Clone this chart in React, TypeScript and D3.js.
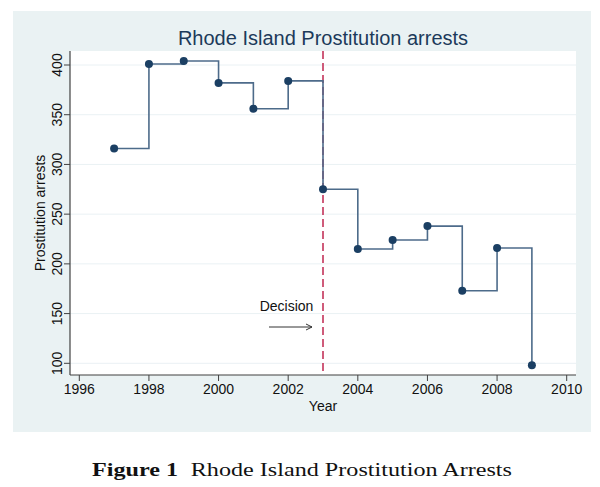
import React, { useRef, useEffect } from 'react'
import * as d3 from 'd3'

const years = [1997, 1998, 1999, 2000, 2001, 2002, 2003, 2004, 2005, 2006, 2007, 2008, 2009]
const arrests = [316, 401, 404, 382, 356, 384, 275, 215, 224, 238, 173, 216, 98]
const xTicks = [1996, 1998, 2000, 2002, 2004, 2006, 2008, 2010]
const yTicks = [100, 150, 200, 250, 300, 350, 400]
const decisionYear = 2003

const W = 600
const H = 487

export default function App() {
  const svgRef = useRef<SVGSVGElement>(null)

  useEffect(() => {
    if (!svgRef.current) return
    document.body.style.margin = '0'
    const svg = d3.select(svgRef.current)
    svg.selectAll('*').remove()

    const plot = { left: 70, right: 576, top: 51, bottom: 375 }
    const font = "'Liberation Sans', Arial, sans-serif"

    const x = d3.scaleLinear().domain([1996, 2010]).range([79.3, 566.7])
    const y = d3.scaleLinear().domain([100, 400]).range([363.3, 65])

    // outer panel
    svg.append('rect')
      .attr('x', 13).attr('y', 11).attr('width', 578).attr('height', 421)
      .attr('fill', '#eaf2f3')

    svg.append('rect')
      .attr('x', plot.left).attr('y', plot.top)
      .attr('width', plot.right - plot.left).attr('height', plot.bottom - plot.top)
      .attr('fill', '#ffffff')

    // grid
    svg.append('g')
      .selectAll('line')
      .data(yTicks)
      .join('line')
      .attr('x1', plot.left).attr('x2', plot.right)
      .attr('y1', d => y(d)).attr('y2', d => y(d))
      .attr('stroke', '#eaf1f4').attr('stroke-width', 1)

    // title
    svg.append('text')
      .attr('x', 323).attr('y', 44.5)
      .attr('text-anchor', 'middle')
      .attr('font-family', font).attr('font-size', 20)
      .attr('fill', '#1c3a5a')
      .text('Rhode Island Prostitution arrests')

    // axes
    const axisColor = '#404040'
    svg.append('line')
      .attr('x1', plot.left).attr('x2', plot.left)
      .attr('y1', plot.top).attr('y2', plot.bottom)
      .attr('stroke', axisColor).attr('stroke-width', 1.2)
    svg.append('line')
      .attr('x1', plot.left).attr('x2', plot.right)
      .attr('y1', plot.bottom).attr('y2', plot.bottom)
      .attr('stroke', axisColor).attr('stroke-width', 1.2)

    const yAxis = svg.append('g')
    yAxis.selectAll('line')
      .data(yTicks)
      .join('line')
      .attr('x1', plot.left - 6).attr('x2', plot.left)
      .attr('y1', d => y(d)).attr('y2', d => y(d))
      .attr('stroke', axisColor)
    yAxis.selectAll('text')
      .data(yTicks)
      .join('text')
      .attr('transform', d => `translate(62,${y(d)}) rotate(-90)`)
      .attr('text-anchor', 'middle')
      .attr('font-family', font).attr('font-size', 14)
      .attr('fill', '#111')
      .text(d => d)

    const xAxis = svg.append('g')
    xAxis.selectAll('line')
      .data(xTicks)
      .join('line')
      .attr('x1', d => x(d)).attr('x2', d => x(d))
      .attr('y1', plot.bottom).attr('y2', plot.bottom + 6)
      .attr('stroke', axisColor)
    xAxis.selectAll('text')
      .data(xTicks)
      .join('text')
      .attr('x', d => x(d)).attr('y', 394)
      .attr('text-anchor', 'middle')
      .attr('font-family', font).attr('font-size', 14)
      .attr('fill', '#111')
      .text(d => d)

    svg.append('text')
      .attr('x', 323).attr('y', 411)
      .attr('text-anchor', 'middle')
      .attr('font-family', font).attr('font-size', 14)
      .attr('fill', '#111')
      .text('Year')

    svg.append('text')
      .attr('transform', `translate(45,${(plot.top + plot.bottom) / 2}) rotate(-90)`)
      .attr('text-anchor', 'middle')
      .attr('font-family', font).attr('font-size', 14)
      .attr('fill', '#111')
      .text('Prostitution arrests')

    // decision line
    svg.append('line')
      .attr('x1', x(decisionYear)).attr('x2', x(decisionYear))
      .attr('y1', plot.top).attr('y2', plot.bottom)
      .attr('stroke', '#c0264f').attr('stroke-width', 1.5)
      .attr('stroke-dasharray', '8,4')

    // step line
    const pts: [number, number][] = years.map((yr, i) => [yr, arrests[i]])
    const line = d3.line<[number, number]>()
      .x(d => x(d[0]))
      .y(d => y(d[1]))
      .curve(d3.curveStepAfter)
    svg.append('path')
      .datum(pts)
      .attr('fill', 'none')
      .attr('stroke', '#4d6b8a')
      .attr('stroke-width', 1.6)
      .attr('d', line)

    svg.append('g')
      .selectAll('circle')
      .data(pts)
      .join('circle')
      .attr('cx', d => x(d[0])).attr('cy', d => y(d[1]))
      .attr('r', 4)
      .attr('fill', '#1b3f63')

    // annotation
    svg.append('text')
      .attr('x', 286.5).attr('y', 311)
      .attr('text-anchor', 'middle')
      .attr('font-family', font).attr('font-size', 14)
      .attr('fill', '#111')
      .text('Decision')
    svg.append('line')
      .attr('x1', 269).attr('x2', 312)
      .attr('y1', 327).attr('y2', 327)
      .attr('stroke', '#333').attr('stroke-width', 1)
    svg.append('path')
      .attr('d', 'M306,324 L312,327 L306,330')
      .attr('fill', 'none')
      .attr('stroke', '#333').attr('stroke-width', 1)

    // caption
    const cap = svg.append('text')
      .attr('x', 92).attr('y', 476)
      .attr('text-anchor', 'start')
      .attr('font-family', "'Liberation Serif', 'Times New Roman', serif")
      .attr('font-size', 19)
      .attr('fill', '#111')
      .attr('textLength', 420)
      .attr('lengthAdjust', 'spacingAndGlyphs')
    cap.append('tspan').attr('font-weight', 'bold').text('Figure 1')
    cap.append('tspan').attr('dx', 10).text('Rhode Island Prostitution Arrests')
  }, [])

  return (
    <svg
      ref={svgRef}
      width={W}
      height={H}
      style={{ display: 'block', position: 'absolute', left: 0, top: 0, background: '#fff' }}
    />
  )
}
